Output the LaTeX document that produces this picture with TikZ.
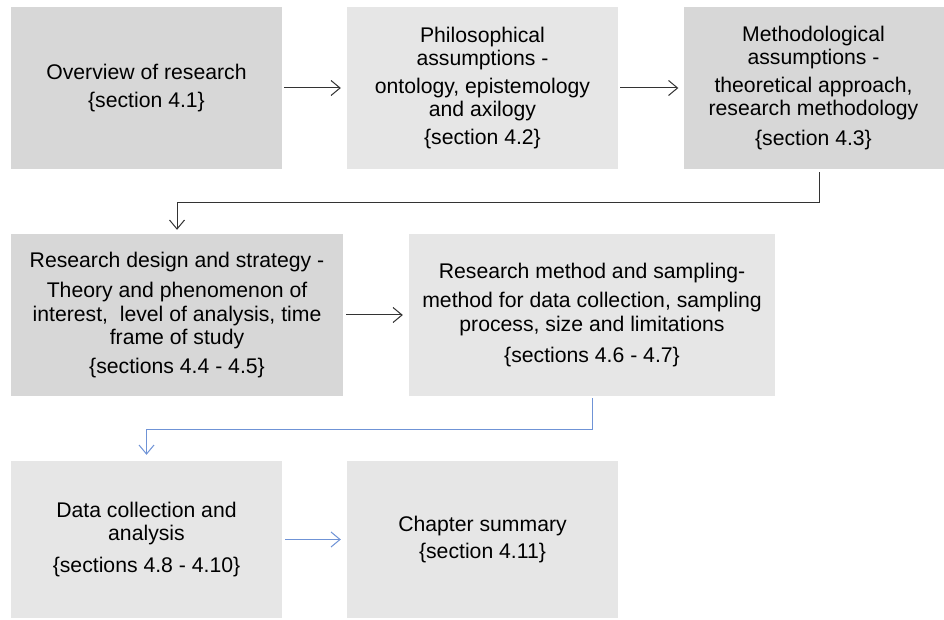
\documentclass[tikz,border=0pt]{standalone}
\usepackage{fontspec}
\setmainfont{Liberation Sans}
\usetikzlibrary{arrows.meta}
\definecolor{boxdark}{HTML}{D7D7D7}
\definecolor{boxlight}{HTML}{E6E6E6}
\definecolor{linkblue}{HTML}{6F93D6}
\definecolor{linkgray}{HTML}{333333}
\begin{document}
\begin{tikzpicture}[x=1pt,y=1pt,
  stagebox/.style={rectangle, inner sep=0pt, align=center,
    font=\fontsize{21.2}{23.5}\selectfont, text=black},
  darkbox/.style={stagebox, fill=boxdark},
  lightbox/.style={stagebox, fill=boxlight},
  link/.style={draw=linkgray, line width=1pt,
    -{Straight Barb[length=9pt,width=15pt,line width=1pt]}},
  bluelink/.style={link, draw=linkblue}]
\useasboundingbox (0,0) rectangle (944,619);

% first row
\node[darkbox, minimum width=271, minimum height=162] (b1) at (146.5,531)
  {Overview of research\\[4pt]\{section 4.1\}};
\node[lightbox, minimum width=271, minimum height=162] (b2) at (482.5,531)
  {Philosophical\\assumptions -\\[4pt]ontology, epistemology\\and axilogy\\[4pt]\{section 4.2\}};
\node[darkbox, minimum width=260, minimum height=162] (b3) at (813.5,531)
  {Methodological\\assumptions -\\[4pt]theoretical approach,\\research methodology\\[6pt]\{section 4.3\}};

% second row
\node[darkbox, minimum width=332, minimum height=162] (b4) at (177,304)
  {Research design and strategy -\\[7pt]Theory and phenomenon of\\interest,\ \ level of analysis, time\\frame of study\\[5pt]\{sections 4.4 - 4.5\}};
\node[lightbox, minimum width=366, minimum height=162] (b5) at (592,304)
  {Research method and sampling-\\[6pt]method for data collection, sampling\\process, size and limitations\\[8pt]\{sections 4.6 - 4.7\}};

% third row
\node[lightbox, minimum width=271, minimum height=157] (b6) at (146.5,79.5)
  {Data collection and\\analysis\\[8pt]\{sections 4.8 - 4.10\}};
\node[lightbox, minimum width=271, minimum height=157] (b7) at (482.5,79.5)
  {Chapter summary\\[4pt]\{section 4.11\}};

% connectors
\draw[link] ([xshift=2pt]b1.east) -- ([xshift=-6pt]b2.west);
\draw[link] ([xshift=2pt]b2.east) -- ([xshift=-5pt]b3.west);
\draw[link] ([xshift=5.5pt,yshift=-3pt]b3.south) -- ++(0,-30) -| ([yshift=4pt]b4.north);
\draw[link] ([xshift=3pt]b4.east) -- ([xshift=-6pt]b5.west);
\draw[bluelink] ([yshift=-2pt]b5.south) -- ++(0,-31) -| ([yshift=6pt]b6.north);
\draw[bluelink] ([xshift=3pt]b6.east) -- ([xshift=-6pt]b7.west);
\end{tikzpicture}
\end{document}
